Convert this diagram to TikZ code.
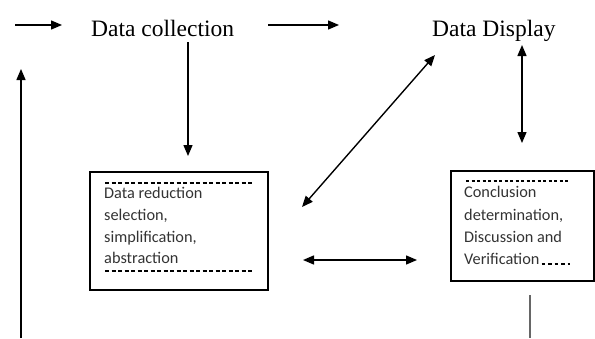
\documentclass[tikz,border=0pt]{standalone}
\usepackage{fontspec}
\setmainfont{Liberation Serif}
\newfontfamily\boxfont{Carlito}
\usetikzlibrary{arrows.meta}
\tikzset{
  tip/.tip={Triangle[length=11pt,width=9pt]},
  arr/.style={line width=1.4pt,-tip},
  darr/.style={line width=1.4pt,tip-tip},
  title/.style={inner sep=0pt,anchor=base west,font=\fontsize{23.5}{27}\selectfont},
  boxtxt/.style={inner sep=0pt,anchor=base west,text=black!80,font=\boxfont\fontsize{16.3}{19}\selectfont},
  frame/.style={draw,line width=1.5pt,inner sep=0pt},
  dashline/.style={line width=1.1pt,dash pattern=on 4pt off 2.5pt}
}
\begin{document}
\begin{tikzpicture}[x=1pt,y=-1pt]
\useasboundingbox (0,0) rectangle (595,338);
% titles
\node[title] (dc) at (91,36) {Data collection};
\node[title] (dd) at (432,36) {Data Display};
% boxes
\node[frame,minimum width=178pt,minimum height=118pt] (lb) at (179,231) {};
\node[frame,minimum width=143pt,minimum height=110pt] (rb) at (522.5,226) {};
% left box text
\node[boxtxt] (l1) at (104,198) {Data reduction};
\node[boxtxt] (l2) at (104,220) {selection,};
\node[boxtxt] (l3) at (104,242) {simplification,};
\node[boxtxt] (l4) at (104,263) {abstraction};
\draw[dashline] (105,183) -- (252,183);
\draw[dashline] (105,271) -- (252,271);
% right box text
\node[boxtxt] (r1) at (464,197) {Conclusion};
\node[boxtxt] (r2) at (464,220) {determination,};
\node[boxtxt] (r3) at (464,242) {Discussion and};
\node[boxtxt] (r4) at (464,264) {Verification};
\draw[line width=1.1pt,dash pattern=on 3pt off 2.5pt] (466,181) -- (570,181);
\draw[line width=1.2pt,dash pattern=on 3.5pt off 3pt] (r4.base east) ++(2,0) -- (570,264);
% coordinates for free ends
\coordinate (s0) at (15,25);
\coordinate (e0) at (62,25);
\coordinate (s1) at (268,25);
\coordinate (e1) at (339,25);
\coordinate (s2) at (188,42);
\coordinate (e2) at (188,156);
\coordinate (s3) at (522,45);
\coordinate (e3) at (522,143);
\coordinate (s4) at (302,207);
\coordinate (e4) at (435,55);
\coordinate (s5) at (303,260);
\coordinate (e5) at (417,260);
\coordinate (s6) at (21,338);
\coordinate (e6) at (21,69);
\coordinate (s7) at (530,295);
\coordinate (e7) at (530,338);
% connectors
\draw[arr] (s0) -- (e0);
\draw[arr] (s1) -- (e1);
\draw[arr] (s2) -- (e2);
\draw[darr] (s3) -- (e3);
\draw[darr] (s4) -- (e4);
\draw[darr] (s5) -- (e5);
\draw[arr] (s6) -- (e6);
\draw[line width=1.6pt,black!60] (s7) -- (e7);
\end{tikzpicture}
\end{document}
